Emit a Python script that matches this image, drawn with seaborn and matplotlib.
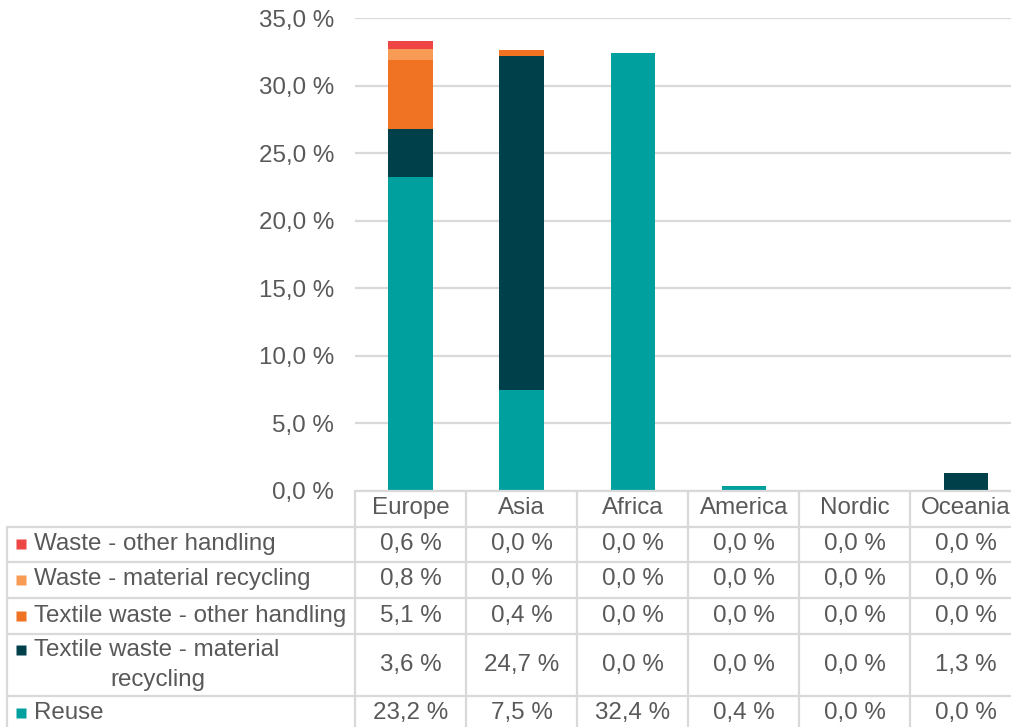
import matplotlib
matplotlib.use("Agg")
import matplotlib.pyplot as plt
import seaborn as sns
import pandas as pd
import numpy as np

regions = ["Europe", "Asia", "Africa", "America", "Nordic", "Oceania"]
series_names = ["Waste - other handling", "Waste - material recycling",
                "Textile waste - other handling", "Textile waste - material\nrecycling", "Reuse"]
waste_other = [0.6, 0.0, 0.0, 0.0, 0.0, 0.0]
waste_recycling = [0.8, 0.0, 0.0, 0.0, 0.0, 0.0]
textile_other = [5.1, 0.4, 0.0, 0.0, 0.0, 0.0]
textile_recycling = [3.6, 24.7, 0.04, 0.0, 0.0, 1.3]
reuse = [23.2, 7.5, 32.4, 0.4, 0.0, 0.0]
colors = ["#EE4545", "#F89B55", "#F07323", "#00404A", "#00A09F"]
yticks = [0, 5, 10, 15, 20, 25, 30, 35]

series = [waste_other, waste_recycling, textile_other, textile_recycling, reuse]

sns.set_theme(style="white")
plt.rcParams["font.family"] = ["Liberation Sans", "DejaVu Sans"]
TXT = "#595959"
GRID = "#D9D9D9"
FS = 17.4

W, H = 1012, 727
fig = plt.figure(figsize=(W / 100, H / 100), dpi=100)
left_px, right_px, top_px, bot_px = 355, 355 + 6 * 111.1, 18, 491
ax = fig.add_axes([left_px / W, (H - bot_px) / H, (right_px - left_px) / W, (bot_px - top_px) / H])

# stacked bars via cumulative overlay (bottom series = Reuse)
stack_order = list(range(len(series)))[::-1]  # reuse first
cum = np.zeros(len(regions))
cums = {}
for i in stack_order:
    cum = cum + np.array(series[i])
    cums[i] = cum.copy()
for i in range(len(series)):  # draw tallest cumulative first
    df = pd.DataFrame({"region": regions, "value": cums[i]})
    sns.barplot(data=df, x="region", y="value", order=regions, color=colors[i],
                saturation=1, width=0.4, ax=ax, zorder=3, linewidth=0)

ax.set_xlim(-0.5, 5.5)
ax.set_ylim(0, 35)
ax.set_yticks(yticks)
ax.set_yticklabels([f"{v:.1f} %".replace(".", ",") for v in yticks], color=TXT, fontsize=FS)
ax.tick_params(axis="y", length=0, pad=15)
ax.set_xticks([])
ax.set_xlabel("")
ax.set_ylabel("")
ax.yaxis.grid(True, color=GRID, lw=1.6, zorder=0)
for s in ax.spines.values():
    s.set_visible(False)

# data table
tab = fig.add_axes([0, 0, 1, 1], zorder=5)
tab.set_xlim(0, W)
tab.set_ylim(H, 0)
tab.axis("off")
tab.patch.set_alpha(0)

to_px = lambda x: ax.transData.transform((x, 0))[0]
edges = [to_px(i - 0.5) for i in range(len(regions) + 1)]
centers = [to_px(i) for i in range(len(regions))]

row_lines = [526.5, 561.5, 598, 633.5, 696]
row_centers = [544, 579.5, 616, 665, 713]
header_y = 508

tab.plot([edges[0], W], [bot_px, bot_px], color=GRID, lw=1.6)
for y in row_lines:
    tab.plot([7, W], [y, y], color=GRID, lw=1.6)
tab.plot([7, 7], [row_lines[0], H], color=GRID, lw=1.6)
for e in edges:
    tab.plot([e, e], [bot_px, H], color=GRID, lw=1.6)

for c, r in zip(centers, regions):
    tab.text(c, header_y, r, ha="center", va="center", color=TXT, fontsize=FS)

for k, (name, vals, col) in enumerate(zip(series_names, series, colors)):
    yc = row_centers[k]
    if "\n" in name:
        l1, l2 = name.split("\n")
        tab.plot([21], [650], marker="s", ms=7, color=col, mec="none")
        tab.text(34, 650, l1, ha="left", va="center", color=TXT, fontsize=FS)
        tab.text(110, 680, l2, ha="left", va="center", color=TXT, fontsize=FS)
    else:
        tab.plot([21], [yc], marker="s", ms=7, color=col, mec="none")
        tab.text(34, yc, name, ha="left", va="center", color=TXT, fontsize=FS)
    for c, v in zip(centers, vals):
        tab.text(c, yc, f"{v:.1f} %".replace(".", ","), ha="center", va="center",
                 color=TXT, fontsize=FS)

fig.savefig("out.png", dpi=100)
